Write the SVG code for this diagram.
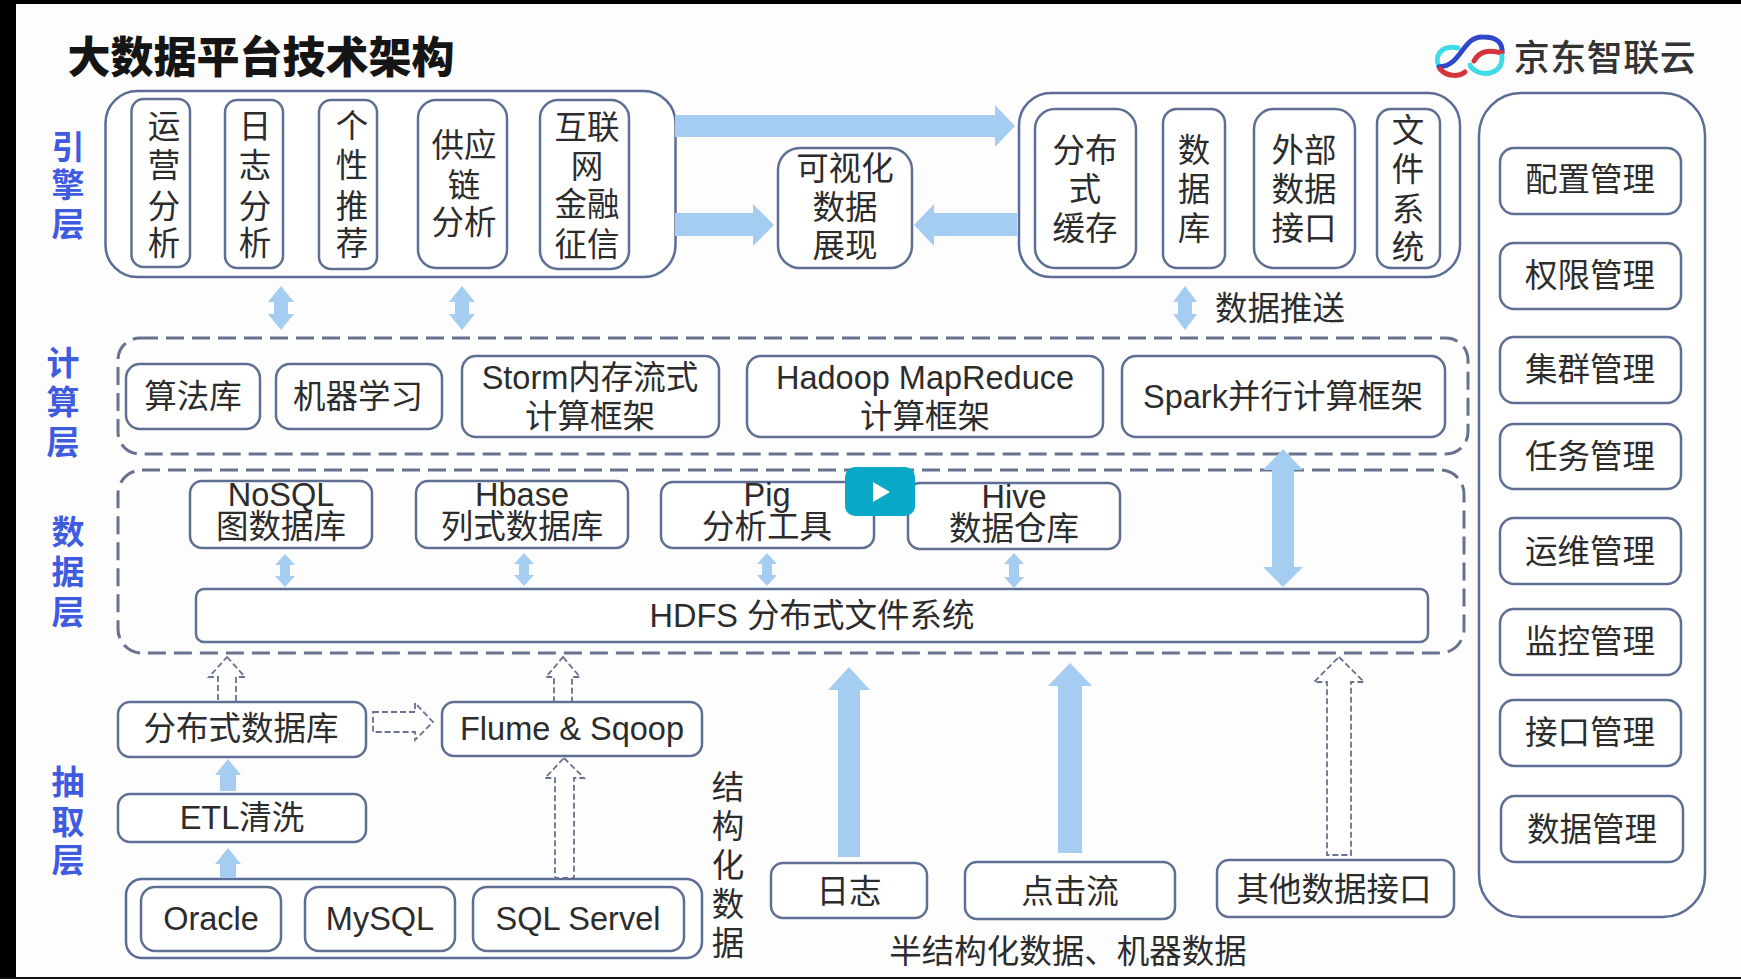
<svg xmlns="http://www.w3.org/2000/svg" width="1741" height="979" viewBox="0 0 1741 979">
<style>
text{font-family:"Liberation Sans","Noto Sans CJK SC",sans-serif;font-size:32.5px;fill:#2c2c2c;text-anchor:middle;dominant-baseline:central}
.n{fill:#fff;stroke:#5f6f93;stroke-width:2.5}
.c{fill:#fff;stroke:#5b6c96;stroke-width:2.5}
.d{fill:none;stroke:#68728f;stroke-width:3;stroke-dasharray:18 8}
.a{fill:#a5cdf1;stroke:none}
.o{fill:#fff;stroke:#68728f;stroke-width:1.8;stroke-dasharray:6 3}
.l{font-weight:700;fill:#3f5be0;font-size:33px}
.t{font-weight:900;font-size:43px;fill:#151515}
.b{fill:none;stroke-width:5;stroke-linecap:round}
</style>
<rect width="1741" height="979" fill="#fdfdfd"/>
<rect width="1741" height="4" fill="#000"/>
<rect width="16" height="979" fill="#000"/>
<rect y="977" width="1741" height="2" fill="#111"/>
<g id="title"><text class="t" x="261" y="58">大数据平台技术架构</text></g>
<g id="logo">
<path class="b" stroke="#3fdbe6" d="M1458 48C1440 44 1434 58 1439 66"/>
<path class="b" stroke="#2f48c8" d="M1439 67C1462 66 1462 36 1483 37C1496 37 1503 42 1502 53"/>
<path class="b" stroke="#d4343c" d="M1440 69C1448 78 1460 76 1465 72M1474 61C1480 50 1490 50 1502 53"/>
<path class="b" stroke="#3fdbe6" d="M1502 56C1503 72 1488 76 1478 72C1472 69 1470 66 1470 65"/>
<text x="1605" y="58" style="font-size:36px;font-weight:500;letter-spacing:0.5px;fill:#333">京东智联云</text>
</g>
<g id="layer-labels">
<text class="l" x="68"><tspan x="68" y="147">引</tspan><tspan x="68" y="185">擎</tspan><tspan x="68" y="224">层</tspan></text>
<text class="l" x="63"><tspan x="63" y="363">计</tspan><tspan x="63" y="402">算</tspan><tspan x="63" y="442">层</tspan></text>
<text class="l" x="68"><tspan x="68" y="532">数</tspan><tspan x="68" y="572">据</tspan><tspan x="68" y="612">层</tspan></text>
<text class="l" x="68"><tspan x="68" y="782">抽</tspan><tspan x="68" y="822">取</tspan><tspan x="68" y="860">层</tspan></text>
</g>
<g id="containers">
<rect class="c" x="105.500" y="91" width="570" height="186" rx="32"/>
<rect class="c" x="1019" y="93" width="441" height="184" rx="32"/>
<rect class="c" x="1479" y="93" width="226" height="824" rx="42"/>
<rect class="d" x="118" y="338" width="1350" height="116" rx="22"/>
<rect class="d" x="118" y="470" width="1346" height="183" rx="24"/>
<rect class="c" x="126" y="879" width="576" height="79" rx="16"/>
</g>
<g id="connectors">
<path class="a" d="M675 115H995V105L1015 126L995 147V137H675Z"/>
<path class="a" d="M675 213H753V204L774 225L753 246V236H675Z"/>
<path class="a" d="M1017 213H934V204L914 225L934 246V236H1017Z"/>
<path class="a" d="M281 286L294 302H288V314H294L281 330L268 314H274V302H268Z"/>
<path class="a" d="M462 286L475 302H469V314H475L462 330L449 314H455V302H449Z"/>
<path class="a" d="M1185 286L1197 302H1192V314H1197L1185 330L1173 314H1178V302H1173Z"/>
<path class="a" d="M1283 449L1303 470H1294V567H1303L1283 587L1263 567H1272V470H1263Z"/>
<path class="a" d="M285 554L295 565H290V576H295L285 587L275 576H280V565H275Z"/>
<path class="a" d="M524 553L534 564H529V575H534L524 586L514 575H519V564H514Z"/>
<path class="a" d="M767 553L777 564H772V575H777L767 586L757 575H762V564H757Z"/>
<path class="a" d="M1014 553L1024 564H1019V577H1024L1014 588L1004 577H1009V564H1004Z"/>
<path class="a" d="M228 759L241 775H236V791H220V775H215Z"/>
<path class="a" d="M228 848L241 864H236V878H220V864H215Z"/>
<path class="a" d="M849 667L870 690H860V857H838V690H828Z"/>
<path class="a" d="M1070 663L1092 686H1082V853H1058V686H1048Z"/>
<path class="o" d="M227 657L245 677H236V702H218V677H209Z"/>
<path class="o" d="M563 657L580 677H572V704H554V677H546Z"/>
<path class="o" d="M373 712H415V703L433 722L415 740V732H373Z"/>
<path class="o" d="M564 758L584 778H574V878H555V778H545Z"/>
<path class="o" d="M1339 657L1364 682H1351V855H1327V682H1314Z"/>
</g>
<g id="n-ops"><rect class="n" x="131.500" y="99" width="58.500" height="168" rx="12"/><text><tspan x="164" y="127">运</tspan><tspan x="164" y="166">营</tspan><tspan x="164" y="207">分</tspan><tspan x="164" y="244">析</tspan></text></g>
<g id="n-log"><rect class="n" x="225" y="100" width="58" height="168" rx="12"/><text><tspan x="255" y="127">日</tspan><tspan x="255" y="166">志</tspan><tspan x="255" y="207">分</tspan><tspan x="255" y="244">析</tspan></text></g>
<g id="n-rec"><rect class="n" x="319" y="100" width="58" height="169" rx="12"/><text><tspan x="352" y="127">个</tspan><tspan x="352" y="166">性</tspan><tspan x="352" y="207">推</tspan><tspan x="352" y="244">荐</tspan></text></g>
<g id="n-supply"><rect class="n" x="418" y="100" width="89" height="168" rx="18"/><text><tspan x="464" y="146">供应</tspan><tspan x="464" y="186">链</tspan><tspan x="464" y="223">分析</tspan></text></g>
<g id="n-finance"><rect class="n" x="540" y="100" width="89" height="169" rx="18"/><text><tspan x="587" y="128">互联</tspan><tspan x="587" y="167">网</tspan><tspan x="587" y="205">金融</tspan><tspan x="587" y="245">征信</tspan></text></g>
<g id="n-visual"><rect class="n" x="778" y="148" width="134" height="120" rx="22"/><text><tspan x="845" y="169">可视化</tspan><tspan x="845" y="208">数据</tspan><tspan x="845" y="246">展现</tspan></text></g>
<g id="n-cache"><rect class="n" x="1035" y="109" width="101" height="159" rx="20"/><text><tspan x="1085" y="151">分布</tspan><tspan x="1085" y="190">式</tspan><tspan x="1085" y="229">缓存</tspan></text></g>
<g id="n-db"><rect class="n" x="1163" y="109" width="62" height="159" rx="14"/><text><tspan x="1194" y="151">数</tspan><tspan x="1194" y="190">据</tspan><tspan x="1194" y="229">库</tspan></text></g>
<g id="n-ext"><rect class="n" x="1254" y="109" width="101" height="159" rx="20"/><text><tspan x="1304" y="151">外部</tspan><tspan x="1304" y="190">数据</tspan><tspan x="1304" y="229">接口</tspan></text></g>
<g id="n-fs"><rect class="n" x="1377" y="109" width="63" height="159" rx="14"/><text><tspan x="1408" y="131">文</tspan><tspan x="1408" y="170">件</tspan><tspan x="1408" y="210">系</tspan><tspan x="1408" y="248">统</tspan></text></g>
<g id="l-push"><text x="1280" y="309">数据推送</text></g>
<g id="m-config"><rect class="n" x="1500" y="148" width="181" height="66" rx="14"/><text x="1590" y="180">配置管理</text></g>
<g id="m-perm"><rect class="n" x="1500" y="243" width="181" height="66" rx="14"/><text x="1590" y="276">权限管理</text></g>
<g id="m-cluster"><rect class="n" x="1500" y="337" width="181" height="66" rx="14"/><text x="1590" y="370">集群管理</text></g>
<g id="m-task"><rect class="n" x="1500" y="424" width="181" height="65" rx="14"/><text x="1590" y="457">任务管理</text></g>
<g id="m-ops"><rect class="n" x="1500" y="518" width="181" height="66" rx="14"/><text x="1590" y="552">运维管理</text></g>
<g id="m-monitor"><rect class="n" x="1500" y="609" width="181" height="66" rx="14"/><text x="1590" y="642">监控管理</text></g>
<g id="m-api"><rect class="n" x="1500" y="700" width="181" height="66" rx="14"/><text x="1590" y="733">接口管理</text></g>
<g id="m-data"><rect class="n" x="1501" y="796" width="182" height="66" rx="14"/><text x="1592" y="830">数据管理</text></g>
<g id="n-algo"><rect class="n" x="126" y="364" width="134" height="65" rx="14"/><text x="193" y="397">算法库</text></g>
<g id="n-ml"><rect class="n" x="276" y="364" width="166" height="65" rx="14"/><text x="358" y="397">机器学习</text></g>
<g id="n-storm"><rect class="n" x="462" y="356" width="257" height="81" rx="14"/><text><tspan x="590" y="378">Storm内存流式</tspan><tspan x="590" y="417">计算框架</tspan></text></g>
<g id="n-hadoop"><rect class="n" x="747" y="356" width="356" height="81" rx="14"/><text><tspan x="925" y="378">Hadoop MapReduce</tspan><tspan x="925" y="417">计算框架</tspan></text></g>
<g id="n-spark"><rect class="n" x="1122" y="356" width="323" height="81" rx="14"/><text x="1283" y="397">Spark并行计算框架</text></g>
<g id="n-nosql"><rect class="n" x="190" y="481" width="182" height="67" rx="12"/><text><tspan x="281" y="495">NoSQL</tspan><tspan x="281" y="527">图数据库</tspan></text></g>
<g id="n-hbase"><rect class="n" x="416" y="481" width="212" height="67" rx="12"/><text><tspan x="522" y="495">Hbase</tspan><tspan x="522" y="527">列式数据库</tspan></text></g>
<g id="n-pig"><rect class="n" x="661" y="482" width="213" height="66" rx="12"/><text><tspan x="767" y="495">Pig</tspan><tspan x="767" y="527">分析工具</tspan></text></g>
<g id="n-hive"><rect class="n" x="908" y="483" width="212" height="66" rx="12"/><text><tspan x="1014" y="497">Hive</tspan><tspan x="1014" y="529">数据仓库</tspan></text></g>
<g id="n-hdfs"><rect class="n" x="196" y="589" width="1232" height="53" rx="8"/><text x="812" y="616">HDFS 分布式文件系统</text></g>
<g id="n-ddb"><rect class="n" x="118" y="702" width="248" height="55" rx="12"/><text x="241" y="729">分布式数据库</text></g>
<g id="n-flume"><rect class="n" x="442" y="702" width="260" height="54" rx="12"/><text x="572" y="729">Flume &amp; Sqoop</text></g>
<g id="n-etl"><rect class="n" x="118" y="794" width="248" height="48" rx="12"/><text x="242" y="818">ETL清洗</text></g>
<g id="n-oracle"><rect class="n" x="141" y="887" width="140" height="64" rx="14"/><text x="211" y="919">Oracle</text></g>
<g id="n-mysql"><rect class="n" x="305" y="887" width="150" height="64" rx="14"/><text x="380" y="919">MySQL</text></g>
<g id="n-sqlserver"><rect class="n" x="473" y="887" width="211" height="64" rx="14"/><text x="578" y="919">SQL Servel</text></g>
<g id="l-structured"><text><tspan x="728" y="788">结</tspan><tspan x="728" y="827">构</tspan><tspan x="728" y="866">化</tspan><tspan x="728" y="905">数</tspan><tspan x="728" y="944">据</tspan></text></g>
<g id="n-logs"><rect class="n" x="771" y="863" width="156" height="55" rx="12"/><text x="849" y="892">日志</text></g>
<g id="n-click"><rect class="n" x="965" y="862" width="210" height="57" rx="12"/><text x="1070" y="892">点击流</text></g>
<g id="n-other"><rect class="n" x="1217" y="860" width="237" height="57" rx="12"/><text x="1334" y="890">其他数据接口</text></g>
<g id="l-semi"><text x="1068" y="952">半结构化数据、机器数据</text></g>
<g id="play"><rect x="845" y="467" width="70" height="49" rx="10" fill="#07a9c6"/><path d="M873 482L890 492L873 502Z" fill="#fff"/></g>
</svg>
